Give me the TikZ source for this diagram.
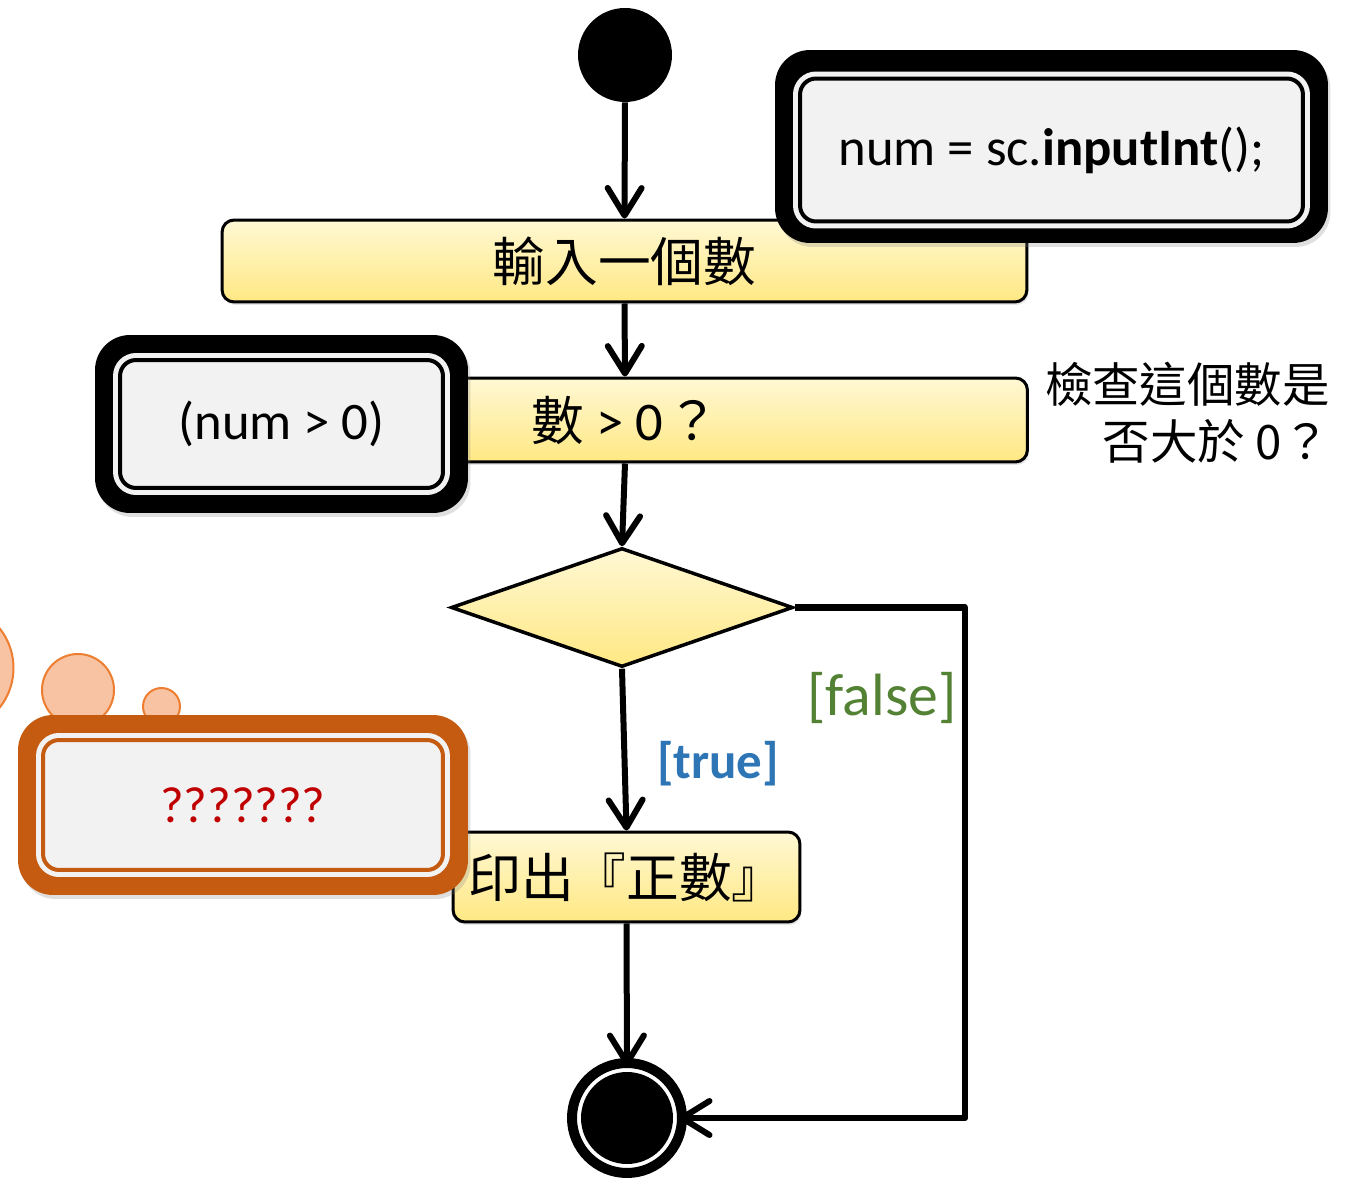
\documentclass[tikz,border=0pt]{standalone}
\usepackage{fontspec}
\setmainfont{Carlito}
\newfontfamily\cjk{Noto Sans CJK TC}
\usetikzlibrary{shapes.geometric,arrows.meta,shadows}
\definecolor{ytop}{HTML}{FFF8D4}
\definecolor{ybot}{HTML}{FFE883}
\definecolor{cfill}{HTML}{F2F2F2}
\definecolor{corange}{HTML}{C55A11}
\definecolor{cred}{HTML}{C00000}
\definecolor{bubfill}{HTML}{F8C3A3}
\definecolor{bubline}{HTML}{ED7D31}
\definecolor{ctrue}{HTML}{2E75B6}
\definecolor{cfalse}{HTML}{548235}
\begin{document}
\begin{tikzpicture}[x=0.02cm, y=-0.02cm,
  flowbox/.style={draw=black, line width=0.06cm, rounded corners=0.24cm,
    top color=ytop, bottom color=ybot, inner sep=0pt,
    font=\cjk\fontsize{30}{35}\selectfont,
    drop shadow={opacity=0.2, shadow xshift=0.03cm, shadow yshift=-0.06cm}},
  decision/.style={diamond, draw=black, line width=0.07cm, top color=ytop,
    bottom color=ybot, inner sep=0pt, aspect=2.87},
  flowarrow/.style={line width=0.12cm, -{Straight Barb[length=0.55cm,width=0.68cm,round]}},
  calloutouter/.style={fill=#1, rounded corners=0.7cm, inner sep=0pt,
    drop shadow={opacity=0.25, shadow xshift=0.05cm, shadow yshift=-0.08cm}},
  calloutinner/.style={draw=#1, line width=0.08cm, fill=cfill, rounded corners=0.32cm,
    inner sep=0pt, preaction={draw=cfill, line width=0.28cm}},
  bubble/.style={circle, fill=bubfill, draw=bubline, line width=0.04cm, inner sep=0pt},
  codefont/.style={font=\fontsize{30}{36}\selectfont},
  notefont/.style={font=\cjk\fontsize{27}{32.5}\selectfont}
]
\useasboundingbox (0,0) rectangle (1357,1179);

% thought bubbles
\node[bubble, minimum size=2.54cm] (bub1) at (-50,668) {};
\node[bubble, minimum size=1.44cm] (bub2) at (78,690) {};
\node[bubble, minimum size=0.74cm] (bub3) at (161.5,706.5) {};

% start
\node[circle, fill=black, minimum size=1.88cm, inner sep=0pt] (start) at (625,55) {};

% action boxes
\node[flowbox, minimum width=16.1cm, minimum height=1.64cm] (box1) at (624.5,261) {輸入一個數};
\node[flowbox, minimum width=16.1cm, minimum height=1.68cm] (box2) at (625,420)
  {數\hspace{0.25cm}{\fontspec{Carlito}\fontsize{31}{36}\selectfont>\hspace{0.25cm}0}\hspace{0.05cm}？};
\node[flowbox, minimum width=6.94cm, minimum height=1.8cm] (box3) at (626.5,877) {印出『正數』};

% decision
\node[decision, minimum width=6.84cm, minimum height=2.38cm] (dia) at (622,607.5) {};

% end
\node[circle, draw=black, line width=0.2cm, fill=white, minimum size=2.2cm, inner sep=0pt] (end) at (627,1118) {};
\node[circle, fill=black, minimum size=1.84cm, inner sep=0pt] (endin) at (end) {};

% connectors
\draw[flowarrow] (start.south) -- (box1.north);
\draw[flowarrow] (box1.south) -- (box2.north);
\draw[flowarrow] (box2.south) -- (dia.north);
\draw[flowarrow] (dia.south) -- (box3.north);
\draw[flowarrow] (box3.south) -- ([yshift=-0.16cm]end.north);
\coordinate (fcorner) at (965,607.5);
\draw[line width=0.13cm, line join=round, -{Straight Barb[length=0.55cm,width=0.68cm,round,line width=0.12cm]}]
  (dia.east) -- (fcorner) |- ([xshift=-0.16cm]end.east);

% guard labels
\node[text=ctrue, font=\bfseries\fontsize{29}{34}\selectfont] (ltrue) at (718,764) {[true]};
\node[text=cfalse, font=\fontsize{34}{40}\selectfont] (lfalse) at (882,698) {[false]};

% note
\node[notefont, align=right, anchor=north east, inner sep=0pt] (note) at (1330,362)
  {檢查這個數是\\否大於 0？};

% callouts
\node[calloutouter=black, minimum width=11.06cm, minimum height=3.86cm] (c1) at (1051.5,146.5) {};
\node[calloutinner=black, minimum width=10.06cm, minimum height=2.86cm, codefont] (c1in) at (1051.5,150)
  {num = sc.\textbf{inputInt}();};

\node[calloutouter=black, minimum width=7.46cm, minimum height=3.56cm] (c2) at (281.5,424) {};
\node[calloutinner=black, minimum width=6.46cm, minimum height=2.56cm, codefont] (c2in) at (c2)
  {(num > 0)};

\node[calloutouter=corange, minimum width=9cm, minimum height=3.6cm] (c3) at (243,805) {};
\node[calloutinner=corange, minimum width=8cm, minimum height=2.6cm, text=cred,
  font=\fontsize{29}{34}\selectfont] (c3in) at (c3) {???????};
\end{tikzpicture}
\end{document}
